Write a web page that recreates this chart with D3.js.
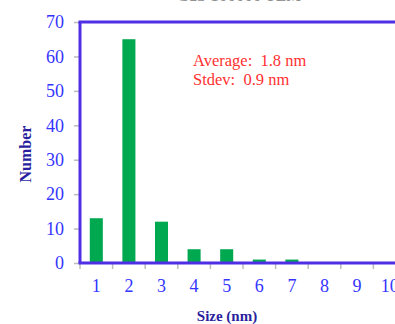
<!DOCTYPE html>
<html>
<head>
<meta charset="utf-8">
<script src="https://cdn.jsdelivr.net/npm/d3@7"></script>
<style>
  body { margin: 0; background: #fff; }
  text { font-family: "Liberation Serif", "Times New Roman", serif; }
</style>
</head>
<body>
<script>
const width = 395, height = 324

// data
const sizes = [1, 2, 3, 4, 5, 6, 7, 8, 9, 10]
const counts = [13, 65, 12, 4, 4, 1, 1, 0, 0, 0]
const yTicks = [0, 10, 20, 30, 40, 50, 60, 70]
const statsLines = ["Average:  1.8 nm", "Stdev:  0.9 nm"]

const margin = {left: 80, top: 22, bottom: 61}

let svg = d3.select("body")
    .append("svg")
    .attr("width", width)
    .attr("height", height)

const x = d3.scaleBand()
    .domain(sizes)
    .range([margin.left, margin.left + 32.6 * sizes.length])
    .paddingInner(0.6)
    .paddingOuter(0.3)

const y = d3.scaleLinear()
    .domain([0, 70])
    .range([height - margin.bottom, margin.top])

// title, mostly cut off at the top edge
svg.append("text")
    .attr("x", 239).attr("y", 0.5)
    .attr("text-anchor", "middle")
    .attr("fill", "#888")
    .style("font-size", "17px")
    .text("CdS 100000 TEM")

// bars
svg.selectAll("rect.bar")
    .data(counts)
    .join("rect")
    .attr("class", "bar")
    .attr("x", (d, i) => x(sizes[i]))
    .attr("width", x.bandwidth())
    .attr("y", d => y(d))
    .attr("height", d => y(0) - y(d))
    .attr("fill", "#00a84f")

// y axis
let yAxis = svg.append("g")
    .attr("transform", `translate(${margin.left},0)`)
    .call(d3.axisLeft(y).tickValues(yTicks).tickSize(6).tickPadding(10))
yAxis.select(".domain").remove()
yAxis.selectAll(".tick line").attr("stroke", "#bbb").attr("stroke-width", 1.5)
yAxis.selectAll(".tick text")
    .attr("fill", "#3535ff")
    .style("font-size", "18px")
    .style("font-family", "'Liberation Serif', serif")

// x axis: ticks at band edges, labels centered in bands
let xAxis = svg.append("g")
    .attr("transform", `translate(0,${y(0)})`)
xAxis.selectAll("line")
    .data(sizes)
    .join("line")
    .attr("x1", d => x(d) - x.step() * 0.3)
    .attr("x2", d => x(d) - x.step() * 0.3)
    .attr("y1", 0).attr("y2", 6)
    .attr("stroke", "#bbb").attr("stroke-width", 1.5)
xAxis.selectAll("text")
    .data(sizes)
    .join("text")
    .attr("x", d => x(d) + x.bandwidth() / 2)
    .attr("y", 29)
    .attr("text-anchor", "middle")
    .attr("fill", "#3535ff")
    .style("font-size", "18px")
    .text(d => d)

// frame lines
svg.append("line")
    .attr("x1", margin.left).attr("x2", margin.left)
    .attr("y1", y(70)).attr("y2", y(0))
    .attr("stroke", "#4f2fe6").attr("stroke-width", 3)
svg.append("line")
    .attr("x1", margin.left - 1.5).attr("x2", width)
    .attr("y1", y(0)).attr("y2", y(0))
    .attr("stroke", "#4f2fe6").attr("stroke-width", 3)
svg.append("line")
    .attr("x1", margin.left - 1.5).attr("x2", width)
    .attr("y1", y(70)).attr("y2", y(70))
    .attr("stroke", "#4f2fe6").attr("stroke-width", 3)

// axis titles
svg.append("text")
    .attr("transform", "translate(31,154) rotate(-90)")
    .attr("text-anchor", "middle")
    .attr("fill", "#2a1f9e")
    .style("font-size", "16px")
    .style("font-weight", "bold")
    .text("Number")

svg.append("text")
    .attr("x", 227).attr("y", 321)
    .attr("text-anchor", "middle")
    .attr("fill", "#2a1f9e")
    .style("font-size", "15px")
    .style("font-weight", "bold")
    .text("Size (nm)")

// stats
svg.selectAll("text.stat")
    .data(statsLines)
    .join("text")
    .attr("class", "stat")
    .attr("x", 193)
    .attr("y", (d, i) => 66 + i * 19)
    .attr("fill", "#ff3030")
    .style("font-size", "16.5px")
    .style("white-space", "pre")
    .text(d => d)
</script>
</body>
</html>
